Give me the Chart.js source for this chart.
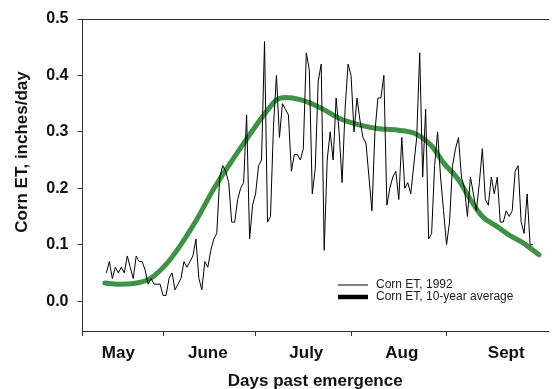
<!DOCTYPE html>
<html>
<head>
<meta charset="utf-8">
<script src="https://cdn.jsdelivr.net/npm/chart.js@4.4.1/dist/chart.umd.min.js"></script>
<style>
    html, body { margin: 0; padding: 0; background: #fff; }
    #wrap { width: 556px; height: 389px; position: relative; }
</style>
</head>
<body>
<div id="wrap"><canvas id="chart"></canvas></div>
<script>
// Daily ET for 1992, one value per day starting at firstDay
const firstDay = 8;
const et1992 = [
    0.05, 0.07, 0.04, 0.06, 0.05, 0.06, 0.05, 0.08, 0.06, 0.04,
    0.08, 0.07, 0.07, 0.055, 0.03, 0.04, 0.03, 0.03, 0.03, 0.01,
    0.01, 0.04, 0.05, 0.02, 0.03, 0.04, 0.07, 0.06, 0.07, 0.08,
    0.11, 0.04, 0.02, 0.07, 0.06, 0.09, 0.11, 0.12, 0.22, 0.24,
    0.23, 0.21, 0.14, 0.14, 0.18, 0.20, 0.21, 0.33, 0.11, 0.17,
    0.19, 0.24, 0.25, 0.46, 0.14, 0.15, 0.31, 0.40, 0.29, 0.35,
    0.34, 0.33, 0.23, 0.26, 0.26, 0.25, 0.27, 0.44, 0.41, 0.19,
    0.235, 0.39, 0.42, 0.09, 0.25, 0.30, 0.25, 0.36, 0.30, 0.21,
    0.34, 0.42, 0.40, 0.30, 0.36, 0.32, 0.29, 0.28, 0.22, 0.16,
    0.30, 0.36, 0.36, 0.40, 0.17, 0.20, 0.22, 0.23, 0.18, 0.29,
    0.20, 0.21, 0.19, 0.24, 0.29, 0.44, 0.22, 0.34, 0.11, 0.12,
    0.24, 0.30, 0.22, 0.16, 0.10, 0.14, 0.24, 0.27, 0.29, 0.22,
    0.20, 0.15, 0.22, 0.19, 0.16, 0.21, 0.27, 0.18, 0.17, 0.22,
    0.19, 0.22, 0.14, 0.14, 0.16, 0.15, 0.16, 0.23, 0.24, 0.14,
    0.12, 0.19, 0.10, 0.10
];

// 10-year average curve
const avgDays = [7.5, 12, 17, 23, 28, 31, 38, 44, 51, 58, 63, 65, 68, 73, 80, 86, 93, 100, 106, 111, 114, 117, 121, 126, 130, 134, 139, 143, 148, 153];
const avgEt = [0.032, 0.030, 0.031, 0.041, 0.065, 0.085, 0.142, 0.199, 0.256, 0.310, 0.345, 0.357, 0.361, 0.357, 0.342, 0.324, 0.312, 0.305, 0.303, 0.298, 0.289, 0.275, 0.245, 0.215, 0.180, 0.150, 0.132, 0.117, 0.102, 0.082];

// Axes
const monthNames = ['May', 'June', 'July', 'Aug', 'Sept'];
const monthLabelDays = [12, 42, 75, 107, 142];
const monthStartDays = [0, 27, 58, 90, 122];
const yTicks = [0, 0.1, 0.2, 0.3, 0.4, 0.5];

const fontFamily = '"Liberation Sans", Arial, Helvetica, sans-serif';

// Legend inside the plot, lower right
const insideLegend = {
    id: 'insideLegend',
    afterDatasetsDraw(chart) {
        const c = chart.ctx;
        const rows = [
            { text: chart.data.datasets[0].label, width: 1, y: 285 },
            { text: chart.data.datasets[1].label, width: 4.5, y: 297 }
        ];
        c.save();
        c.font = '12px ' + fontFamily;
        c.textBaseline = 'middle';
        c.fillStyle = '#222';
        rows.forEach(r => {
            c.strokeStyle = '#000';
            c.lineWidth = r.width;
            c.beginPath();
            c.moveTo(338, r.y);
            c.lineTo(368, r.y);
            c.stroke();
            c.fillText(r.text, 376, r.y);
        });
        c.restore();
    }
};

// Y title, a bit above the middle of the axis like the original
const yTitle = {
    id: 'yTitle',
    afterDraw(chart) {
        const c = chart.ctx;
        c.save();
        c.translate(22.5, 152);
        c.rotate(-Math.PI / 2);
        c.font = 'bold 17px ' + fontFamily;
        c.fillStyle = '#111';
        c.textAlign = 'center';
        c.textBaseline = 'middle';
        c.fillText('Corn ET, inches/day', 0, 0);
        c.restore();
    }
};

const ctx = document.getElementById('chart').getContext('2d');
new Chart(ctx, {
    type: 'line',
    data: {
        datasets: [{
            label: 'Corn ET, 1992',
            data: et1992.map((v, i) => ({ x: firstDay + i, y: v })),
            borderColor: '#000',
            borderWidth: 1,
            pointRadius: 0,
            tension: 0,
            order: 0
        }, {
            label: 'Corn ET, 10-year average',
            data: avgDays.map((d, i) => ({ x: d, y: avgEt[i] })),
            borderColor: '#3e9146',
            borderWidth: 5,
            borderCapStyle: 'round',
            pointRadius: 0,
            cubicInterpolationMode: 'monotone',
            order: 1
        }]
    },
    options: {
        responsive: true,
        maintainAspectRatio: false,
        animation: false,
        layout: { padding: { top: 19, right: 8, bottom: 0, left: 0 } },
        plugins: {
            legend: { display: false },
            tooltip: { enabled: false }
        },
        scales: {
            x: {
                type: 'linear',
                min: 0,
                max: 156,
                afterBuildTicks: s => {
                    s.ticks = monthStartDays.concat(monthLabelDays).sort((a, b) => a - b).map(v => ({ value: v }));
                },
                afterFit: s => { s.height = 58; },
                grid: {
                    drawOnChartArea: false,
                    tickLength: 5,
                    tickColor: c => (c.tick && monthStartDays.includes(c.tick.value)) ? '#333' : 'rgba(0,0,0,0)'
                },
                border: { color: '#333', width: 1 },
                ticks: {
                    autoSkip: false,
                    maxRotation: 0,
                    minRotation: 0,
                    padding: 7,
                    color: '#111',
                    font: { family: fontFamily, size: 17, weight: 'bold' },
                    callback: v => {
                        const i = monthLabelDays.indexOf(v);
                        return i >= 0 ? monthNames[i] : '';
                    }
                },
                title: {
                    display: true,
                    text: 'Days past emergence',
                    color: '#111',
                    padding: { top: 0, bottom: -1 },
                    font: { family: fontFamily, size: 17, weight: 'bold', lineHeight: 1 }
                }
            },
            xTop: {
                type: 'linear',
                position: 'top',
                min: 0,
                max: 156,
                afterFit: s => { s.height = 0; },
                ticks: { display: false },
                grid: { drawOnChartArea: false, drawTicks: false },
                border: { color: '#333', width: 1 }
            },
            y: {
                min: -0.053,
                max: 0.5,
                afterBuildTicks: s => {
                    s.ticks = yTicks.map(v => ({ value: v }));
                },
                afterFit: s => { s.width = 82.5; },
                grid: { drawOnChartArea: false, tickLength: 5, tickColor: '#333' },
                border: { color: '#333', width: 1 },
                ticks: {
                    padding: 9,
                    color: '#111',
                    font: { family: fontFamily, size: 16, weight: 'bold' },
                    callback: v => v.toFixed(1)
                }
            }
        }
    },
    plugins: [insideLegend, yTitle]
});
</script>
</body>
</html>
